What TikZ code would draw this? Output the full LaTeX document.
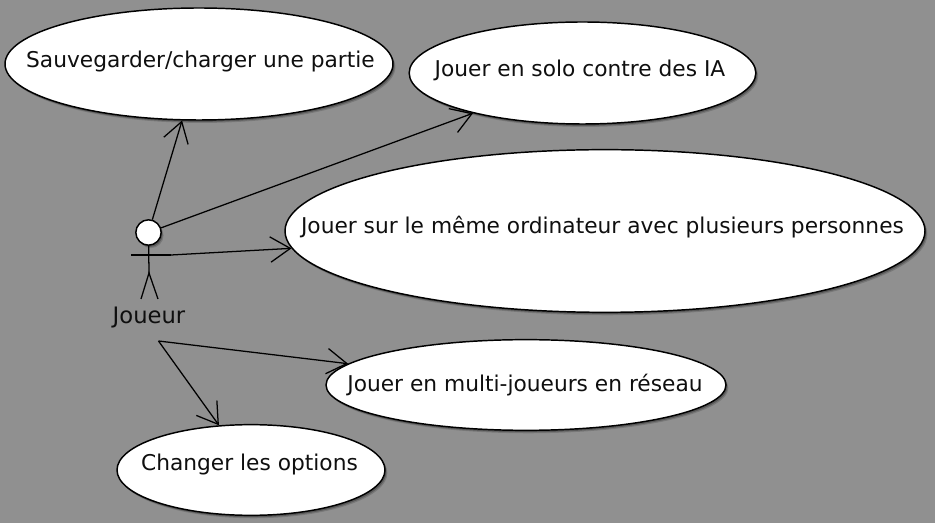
\documentclass[tikz,border=0pt]{standalone}
\usepackage{fontspec}
\setmainfont{DejaVu Sans}
\usetikzlibrary{positioning,arrows.meta,shapes.geometric,shadows}
\definecolor{themegray}{RGB}{144,144,144}
\definecolor{inkblack}{RGB}{15,15,15}
\tikzset{
  softshadow/.style={
    drop shadow={shadow xshift=1.8pt,shadow yshift=-2.2pt,fill=black,opacity=.16},
    drop shadow={shadow xshift=1.1pt,shadow yshift=-1.4pt,fill=black,opacity=.25}},
  usecase/.style={ellipse,draw=black,line width=1.1pt,fill=white,inner sep=0pt,softshadow},
  uclabel/.style={font=\fontsize{16.3}{19}\selectfont,text=inkblack,inner sep=0pt},
  assoc/.style={draw=black,line width=.95pt,-{Straight Barb[length=15pt,width=19pt,line width=.95pt]}},
  limb/.style={draw=black,line width=.95pt}
}
\begin{document}
\begin{tikzpicture}[x=.75pt,y=-.75pt]
    \useasboundingbox (0,0) rectangle (935,523);
    \fill[themegray] (0,0) rectangle (935,523);
    % use cases
    \node[usecase,minimum width=291pt,minimum height=84pt] (saveCase) at (199,64) {};
    \node[usecase,minimum width=260pt,minimum height=76.5pt] (soloCase) at (582.5,73) {};
    \node[usecase,minimum width=480pt,minimum height=122pt] (localCase) at (605,231) {};
    \node[usecase,minimum width=300pt,minimum height=68pt] (netCase) at (526,385) {};
    \node[usecase,minimum width=201pt,minimum height=68pt] (optCase) at (251,470) {};
    \node[uclabel] (saveText) at (200.5,62) {Sauvegarder/charger une partie};
    \node[uclabel] (soloText) at (580,70) {Jouer en solo contre des IA};
    \node[uclabel] (localText) at (602.5,227) {Jouer sur le même ordinateur avec plusieurs personnes};
    \node[uclabel] (netText) at (525,385) {Jouer en multi-joueurs en réseau};
    \node[uclabel] (optText) at (249.5,465) {Changer les options};
    % actor
    \node[circle,draw=black,line width=1.1pt,fill=white,minimum size=19pt,inner sep=0pt,softshadow] (actorHead) at (148.5,232.5) {};
    \coordinate (actorHip) at (149,273);
    \coordinate (actorHandL) at (131,255);
    \coordinate (actorHandR) at (171,255);
    \coordinate (actorFootL) at (141,299);
    \coordinate (actorFootR) at (158,299);
    \coordinate (actorBase) at (158.5,341);
    \draw[limb] (actorHead) -- (actorHip);
    \draw[limb] (actorHandL) -- (actorHandR);
    \draw[limb] (actorFootL) -- (actorHip) -- (actorFootR);
    \node[font=\fontsize{17}{20}\selectfont,text=inkblack,inner sep=0pt] (actorName) at (149,318) {Joueur};
    % associations
    \draw[assoc] (actorHead) -- (saveCase);
    \draw[assoc] (actorHead) -- (soloCase);
    \draw[assoc] (actorHandR) -- (localCase);
    \draw[assoc] (actorBase) -- (netCase);
    \draw[assoc] (actorBase) -- (optCase);
  \end{tikzpicture}
\end{document}
